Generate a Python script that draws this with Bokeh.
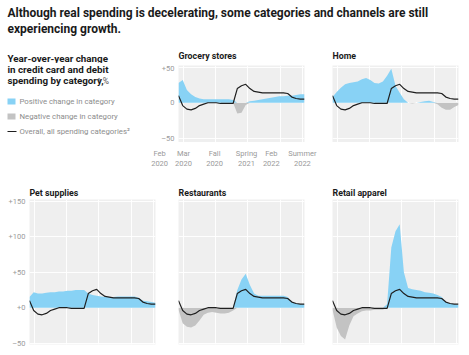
from bokeh.plotting import figure
from bokeh.layouts import column, row
from bokeh.models import Range1d, FixedTicker, Label
from bokeh.core.properties import value
from bokeh.embed import file_html
from bokeh.resources import INLINE

# ---------------- data (monthly index, Feb 2020 = 0 ... Aug 2022 = 30) ----------------
months = list(range(31))
overall = [10, -4, -9, -10, -8, -4, -2, 0, 0, 0, -1, -1, -1, -1, 20, 24, 26, 20, 16, 15,
           14, 14, 14, 14, 14, 14, 13, 8, 6, 5, 5]
grocery = [28, 32, 18, 12, 8, 6, 5, 5, 5, 5, 5, 5, 5, 4, -15, -14, -3, 2, 3, 4,
           5, 6, 7, 8, 9, 9, 10, 10, 11, 12, 12]
home = [8, 15, 21, 26, 28, 29, 30, 33, 35, 32, 28, 27, 30, 38, 48, 24, 14, 5, 0, -1,
        0, 1, 2, 3, 1, -2, -7, -10, -10, -6, -3]
pet = [15, 22, 20, 20, 21, 22, 22, 23, 23, 24, 24, 25, 25, 25, 20, 18, 17, 16, 15, 15,
       15, 16, 16, 16, 16, 16, 14, 10, 9, 8, 7]
restaurants = [-3, -22, -27, -28, -25, -18, -10, -7, -6, -7, -8, -8, -7, -4, 25, 40, 48, 32, 20, 17,
               17, 17, 17, 17, 17, 17, 15, 8, 6, 5, 5]
retail = [-3, -28, -40, -45, -25, -12, -8, -5, -4, -4, -3, -3, -3, 5, 85, 108, 118, 50, 28, 26,
          25, 24, 22, 21, 20, 18, 15, 8, 6, 5, 4]

x_tick_months = ["Feb", "Mar", "Fall", "Spring", "Feb", "Summer"]
x_tick_years = ["2020", "2020", "2020", "2021", "2022", "2022"]
x_tick_pos = [-4.5, 1.2, 8.6, 16.2, 22.1, 29.5]
grid_x = [1.2, 8.8, 16.4, 24.2, 29.5]

top_ticks = [-50, 0, 50]
top_labels = ["\u201350", "0", "+50"]
bot_ticks = [-50, 0, 50, 100, 150]
bot_labels = ["\u201350", "+0", "+50", "+100", "+150"]

BLUE = "#88d2f5"
GREY = "#c3c3c3"
BOX = "#efefef"
LINE = "#1f1f1f"
TXT = "#9a9a9a"
FONT = "Roboto"

top_yr = (-56, 52.5)
bot_yr = (-52, 153)

# layout geometry (pixels)
W = 469
TITLE_H = 63
TOP_H = 79
STRIP_H = 38
BOT_H = 175
PANEL_W = 126
GROCERY_LEFT = 178


def blank(w, h, xr, yr, bt=0):
    p = figure(width=w, height=h, x_range=Range1d(*xr), y_range=Range1d(*yr),
               output_backend="svg", toolbar_location=None,
               min_border_left=0, min_border_right=0, min_border_top=bt, min_border_bottom=0)
    p.axis.visible = False
    p.grid.visible = False
    p.outline_line_color = None
    p.background_fill_color = "white"
    p.border_fill_color = "white"
    return p


def panel(vals, w, h, bl, br, bt, bb, yr, title=None, ticks=None, labels=None):
    p = figure(width=w, height=h, x_range=Range1d(0, 30), y_range=Range1d(*yr),
               output_backend="svg", toolbar_location=None,
               min_border_left=bl, min_border_right=br,
               min_border_top=bt, min_border_bottom=bb)
    p.background_fill_color = BOX
    p.border_fill_color = "white"
    p.outline_line_color = None
    p.xaxis.visible = False
    gticks = top_ticks if yr[1] < 100 else bot_ticks
    if ticks is not None:
        ax = p.yaxis[0]
        ax.ticker = FixedTicker(ticks=ticks)
        ax.major_label_overrides = {t: l for t, l in zip(ticks, labels)}
        ax.axis_line_color = None
        ax.major_tick_line_color = None
        ax.minor_tick_line_color = None
        ax.major_tick_in = 0
        ax.major_tick_out = 0
        ax.major_label_standoff = 4
        ax.major_label_text_font = FONT
        ax.major_label_text_font_size = "7.5px"
        ax.major_label_text_color = TXT
    else:
        p.yaxis.visible = False
    p.xgrid.ticker = FixedTicker(ticks=grid_x)
    p.ygrid.ticker = FixedTicker(ticks=gticks)
    p.grid.grid_line_color = "white"
    p.grid.grid_line_width = 1
    p.grid.grid_line_alpha = 0.9

    pos = [max(v, 0) for v in vals]
    neg = [min(v, 0) for v in vals]
    zeros = [0] * len(vals)
    p.varea(x=months, y1=zeros, y2=pos, fill_color=BLUE)
    p.varea(x=months, y1=zeros, y2=neg, fill_color=GREY)
    p.line(x=months, y=overall, line_color=LINE, line_width=1.2)

    if title:
        p.title.text = title
        p.title.align = "left"
        p.title.text_font = FONT
        p.title.text_font_style = "bold"
        p.title.text_font_size = "8.8px"
        p.title.text_color = "#1a1a1a"
        p.title.standoff = 3
        p.title.offset = 0
    return p


def lab(p, x, y, text, size, color="#1a1a1a", bold=False, align="left"):
    p.add_layout(Label(x=x, y=y, text=text, text_font=FONT,
                       text_font_style="bold" if bold else "normal",
                       text_font_size=size, text_color=color, text_align=align,
                       text_baseline="middle"))


# ---------------- title strip (main title, first legend line, top panel titles) ----------------
tf = blank(W, TITLE_H, (0, W), (TITLE_H, 0))
lab(tf, 7, 12, "Although real spending is decelerating, some categories and channels are still", "12px", bold=True)
lab(tf, 7, 28, "experiencing growth.", "12px", bold=True)
lab(tf, 7, 57.5, "Year-over-year change", "9.8px", bold=True)
lab(tf, 178, 55.5, "Grocery stores", "8.8px", bold=True)
lab(tf, 332, 55.5, "Home", "8.8px", bold=True)

# ---------------- legend block (page y coordinates, frame = 65..142) ----------------
lf = blank(140, TOP_H, (0, 140), (142, 65), bt=2)
lab(lf, 7, 69.3, "in credit card and debit", "9.8px", bold=True)
lab(lf, 7, 80.3, "spending by category,", "9.8px", bold=True)
lab(lf, 97, 80.3, "\u00b9 %", "8.5px", color="#555555")
lf.quad(left=7, right=15, top=98, bottom=104, fill_color=BLUE, line_color=None)
lf.quad(left=7, right=15, top=113, bottom=119, fill_color=GREY, line_color=None)
lf.line(x=[7, 16], y=[131, 131], line_color=LINE, line_width=1.2)
lab(lf, 19, 101, "Positive change in category", "7.8px", color="#8c8c8c")
lab(lf, 19, 116, "Negative change in category", "7.8px", color="#8c8c8c")
lab(lf, 19, 131, "Overall, all spending categories\u00b2", "7.8px", color="#8c8c8c")

# ---------------- top row panels ----------------
g = panel(grocery, 178, TOP_H, 38, 14, 2, 0, top_yr, ticks=top_ticks, labels=top_labels)
h = panel(home, 151, TOP_H, 14, 11, 2, 0, top_yr)

# ---------------- x tick labels strip, same month scale as the grocery panel ----------------
sx0 = -GROCERY_LEFT * 30 / PANEL_W
sx1 = (W - GROCERY_LEFT) * 30 / PANEL_W
st = blank(W, STRIP_H, (sx0, sx1), (STRIP_H, 0))
st.text(x=x_tick_pos, y=[10.5] * len(x_tick_pos), text=x_tick_months,
        text_font=value(FONT), text_font_size="7.5px", text_color=TXT,
        text_align="center", text_baseline="middle")
st.text(x=x_tick_pos, y=[20.5] * len(x_tick_pos), text=x_tick_years,
        text_font=value(FONT), text_font_size="7.5px", text_color=TXT,
        text_align="center", text_baseline="middle")

# ---------------- bottom row panels ----------------
ps = panel(pet, 166, BOT_H, 29, 11, 19, 11, bot_yr, "Pet supplies", bot_ticks, bot_labels)
rs = panel(restaurants, 152, BOT_H, 12, 14, 19, 11, bot_yr, "Restaurants")
ra = panel(retail, 151, BOT_H, 14, 11, 19, 11, bot_yr, "Retail apparel")

layout = column(tf, row(lf, g, h), st, row(ps, rs, ra))

with open("out.html", "w") as f:
    f.write(file_html(layout, INLINE))
